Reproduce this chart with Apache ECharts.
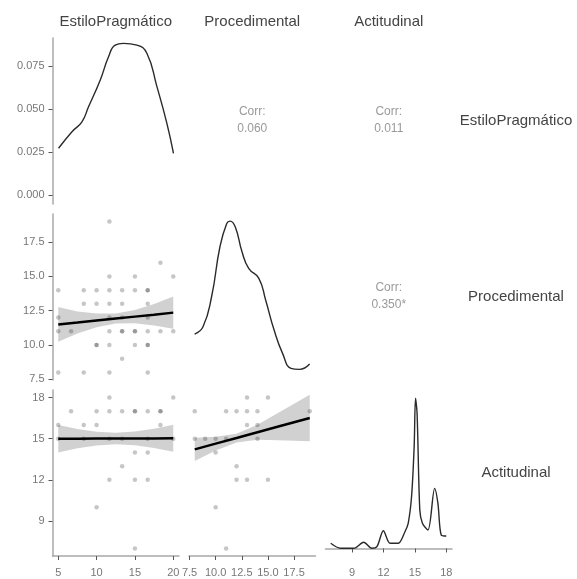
<!DOCTYPE html>
<html>
<head>
<meta charset="utf-8">
<script src="https://cdn.jsdelivr.net/npm/echarts@6/dist/echarts.min.js"></script>
<style>
  html, body { margin: 0; padding: 0; background: #fff; }
  #chart { width: 577px; height: 579px; }
</style>
</head>
<body>
<div id="chart"></div>
<script>
// variable names
var varNames = ['EstiloPragmático', 'Procedimental', 'Actitudinal'];

// diagonal densities
var estiloDensX = [5.04, 6.79, 8.09, 8.95, 10.48, 11.56, 12.43, 13.5, 15.26, 16.56, 17.87, 19.17, 20.03];
var estiloDensY = [0.0272, 0.0368, 0.0426, 0.0513, 0.0669, 0.0804, 0.0872, 0.0882, 0.0872, 0.0824, 0.063, 0.0417, 0.0242];

var procDensX = [7.99, 8.79, 9.61, 10.41, 11.06, 11.38, 11.87, 12.52, 13.16, 14.13, 14.78, 15.59, 16.4, 17.21, 18.01, 18.99];
var procDensY = [0.0408, 0.0485, 0.0803, 0.1333, 0.158, 0.1605, 0.1545, 0.128, 0.1104, 0.0998, 0.0768, 0.045, 0.0203, 0.0045, 0.0034, 0.009];

var actDensX = [6.95, 7.89, 9.15, 10.1, 10.89, 11.37, 11.99, 12.63, 13.41, 14.05, 14.36, 14.68, 14.93, 15.06, 15.21, 15.47, 15.72, 16.25, 16.89, 17.2, 17.52, 18.0];
var actDensY = [0.0155, 0.0006, 0.0006, 0.0185, 0.0006, 0.0054, 0.053, 0.0155, 0.0155, 0.05, 0.075, 0.154, 0.303, 0.448, 0.403, 0.115, 0.075, 0.055, 0.179, 0.135, 0.04, 0.037];

// scatter panels
var estiloProcPts = [
  [11.67, 19], [18.33, 16], [11.67, 15], [15, 15], [20, 15],
  [5, 14], [8.33, 14], [10, 14], [11.67, 14], [13.33, 14], [15, 14], [16.67, 14], [16.67, 14],
  [8.33, 13], [10, 13], [11.67, 13], [13.33, 13], [16.67, 13],
  [5, 12], [11.67, 12], [13.33, 12], [16.67, 12],
  [5, 11], [6.67, 11], [11.67, 11], [13.33, 11], [13.33, 11], [15, 11], [15, 11], [16.67, 11], [18.33, 11], [20, 11],
  [10, 10], [10, 10], [11.67, 10], [15, 10], [16.67, 10], [16.67, 10],
  [13.33, 9],
  [5, 8], [8.33, 8], [11.67, 8], [16.67, 8]
];
var estiloActPts = [
  [11.67, 18], [20, 18],
  [6.67, 17], [10, 17], [11.67, 17], [13.33, 17], [15, 17], [15, 17], [16.67, 17], [18.33, 17], [18.33, 17],
  [5, 16], [8.33, 16], [10, 16], [18.33, 16],
  [5, 15], [8.33, 15], [11.67, 15], [13.33, 15], [16.67, 15], [20, 15],
  [15, 14], [16.67, 14],
  [13.33, 13],
  [11.67, 12], [15, 12], [16.67, 12],
  [10, 10],
  [15, 7]
];
var procActPts = [
  [13, 18], [15, 18],
  [8, 17], [11, 17], [12, 17], [13, 17], [14, 17], [19, 17],
  [13, 16], [14, 16],
  [8, 15], [9, 15], [10, 15], [11, 15], [14, 15],
  [10, 14],
  [12, 13],
  [12, 12], [13, 12], [15, 12],
  [10, 10],
  [11, 7]
];

// lm fits with confidence band
var fitEPx = [5, 7.5, 10, 12.5, 15, 17.5, 20];
var fitEPy = [11.5, 11.64, 11.79, 11.93, 12.07, 12.21, 12.36];
var fitEPlo = [10.23, 10.84, 11.29, 11.56, 11.59, 11.43, 11.18];
var fitEPhi = [12.77, 12.44, 12.29, 12.3, 12.55, 12.99, 13.54];

var fitEAx = [5, 7.5, 10, 12.5, 15, 17.5, 20];
var fitEAy = [15.0, 15.0, 15.01, 15.01, 15.02, 15.02, 15.03];
var fitEAlo = [14.0, 14.3, 14.51, 14.59, 14.52, 14.32, 14.05];
var fitEAhi = [16.0, 15.7, 15.51, 15.43, 15.52, 15.72, 16.01];

var fitPAx = [8, 10, 12, 14, 16, 19];
var fitPAy = [14.22, 14.64, 15.05, 15.47, 15.89, 16.51];
var fitPAlo = [13.37, 14.14, 14.73, 14.92, 14.89, 14.81];
var fitPAhi = [15.07, 15.14, 15.37, 16.02, 16.89, 18.21];

// correlations (upper panels)
var corrLabels = ['0.060', '0.011', '0.350*'];

// tick labels
var estiloTicks = [5, 10, 15, 20];
var procTicks = [7.5, 10, 12.5, 15, 17.5];
var actTicks = [9, 12, 15, 18];
var densTicks = [0, 0.025, 0.05, 0.075];

var cols = [52.5, 189, 325.5];
var rows = [38, 214, 390];
var pw = 126.5, ph = 166;

var myChart = echarts.init(document.getElementById('chart'));

function zip(xs, ys) {
  return xs.map(function (x, i) { return [x, ys[i]]; });
}

function axis(min, max, show, ticks, dec, margin) {
  return {
    type: 'value', min: min, max: max, show: show,
    splitLine: { show: false },
    axisLine: { show: true, lineStyle: { color: '#a8a8a8', width: 1.5 } },
    axisTick: { show: true, length: 4, customValues: ticks, lineStyle: { color: '#555' } },
    axisLabel: {
      show: true, customValues: ticks, color: '#777', fontSize: 11, margin: margin || 8,
      formatter: function (v) { return dec == null ? String(v) : v.toFixed(dec); }
    }
  };
}

var grids = [];
var cells = [[0, 0], [1, 0], [1, 1], [2, 0], [2, 1], [2, 2]]; // [row, col]
cells.forEach(function (c) {
  grids.push({ left: cols[c[1]], top: rows[c[0]], width: pw, height: ph, containLabel: false, outerBoundsMode: 'none' });
});

var xAxes = [
  axis(4.25, 20.75, false, estiloTicks),
  axis(4.25, 20.75, false, estiloTicks),
  axis(7.45, 19.55, false, procTicks, 1),
  axis(4.25, 20.75, true, estiloTicks, null, 11),
  axis(7.45, 19.55, true, procTicks, 1, 11),
  axis(6.45, 18.55, true, actTicks, null, 11)
];
var yAxes = [
  axis(-0.0052, 0.0913, true, densTicks, 3),
  axis(7.45, 19.55, true, procTicks, 1),
  axis(-0.0079, 0.168, false, []),
  axis(6.45, 18.55, true, actTicks),
  axis(6.45, 18.55, false, actTicks),
  axis(-0.0224, 0.4723, false, [])
];
xAxes.forEach(function (a, i) { a.gridIndex = i; });
yAxes.forEach(function (a, i) { a.gridIndex = i; });

function density(idx, xs, ys, smooth) {
  return {
    type: 'line', xAxisIndex: idx, yAxisIndex: idx, data: zip(xs, ys),
    smooth: smooth, symbol: 'none',
    lineStyle: { color: '#2a2a2a', width: 1.4 }
  };
}
function scatter(idx, pts) {
  return {
    type: 'scatter', xAxisIndex: idx, yAxisIndex: idx, data: pts,
    symbolSize: 4.5, itemStyle: { color: 'rgba(0,0,0,0.28)' }
  };
}
function band(idx, xs, lo, hi) {
  return {
    type: 'custom', xAxisIndex: idx, yAxisIndex: idx, data: [[xs[0], lo[0]]], silent: true,
    renderItem: function (params, api) {
      var pts = [];
      for (var i = 0; i < xs.length; i++) pts.push(api.coord([xs[i], hi[i]]));
      for (var j = xs.length - 1; j >= 0; j--) pts.push(api.coord([xs[j], lo[j]]));
      return { type: 'polygon', shape: { points: pts }, style: { fill: 'rgba(153,153,153,0.45)' } };
    }
  };
}
function fitLine(idx, xs, ys) {
  return {
    type: 'line', xAxisIndex: idx, yAxisIndex: idx, data: zip(xs, ys),
    symbol: 'none', lineStyle: { color: '#000', width: 2.4 }, z: 5
  };
}

var series = [
  density(0, estiloDensX, estiloDensY, 0.5),
  scatter(1, estiloProcPts), band(1, fitEPx, fitEPlo, fitEPhi), fitLine(1, fitEPx, fitEPy),
  density(2, procDensX, procDensY, 0.5),
  scatter(3, estiloActPts), band(3, fitEAx, fitEAlo, fitEAhi), fitLine(3, fitEAx, fitEAy),
  scatter(4, procActPts), band(4, fitPAx, fitPAlo, fitPAhi), fitLine(4, fitPAx, fitPAy),
  density(5, actDensX, actDensY, 0.3)
];

// strip labels and correlation text
var texts = [];
varNames.forEach(function (n, i) {
  texts.push({ type: 'text', x: cols[i] + pw / 2, y: 22, style: { text: n, fill: '#444', fontSize: 15, align: 'center', verticalAlign: 'middle' } });
  texts.push({ type: 'text', x: 516, y: rows[i] + ph / 2, style: { text: n, fill: '#444', fontSize: 15, align: 'center', verticalAlign: 'middle' } });
});
var corrCells = [[0, 1], [0, 2], [1, 2]];
corrCells.forEach(function (c, i) {
  var cx = cols[c[1]] + pw / 2, cy = rows[c[0]] + ph / 2;
  texts.push({ type: 'text', x: cx, y: cy - 9, style: { text: 'Corr:', fill: '#9a9a9a', fontSize: 12, align: 'center', verticalAlign: 'middle' } });
  texts.push({ type: 'text', x: cx, y: cy + 8, style: { text: corrLabels[i], fill: '#9a9a9a', fontSize: 12, align: 'center', verticalAlign: 'middle' } });
});

var option = {
  animation: false,
  backgroundColor: '#fff',
  textStyle: { fontFamily: 'Liberation Sans, Arial, sans-serif' },
  grid: grids,
  xAxis: xAxes,
  yAxis: yAxes,
  series: series,
  graphic: texts
};
myChart.setOption(option);
window.addEventListener('resize', function () {
  myChart.resize();
});
</script>
</body>
</html>
